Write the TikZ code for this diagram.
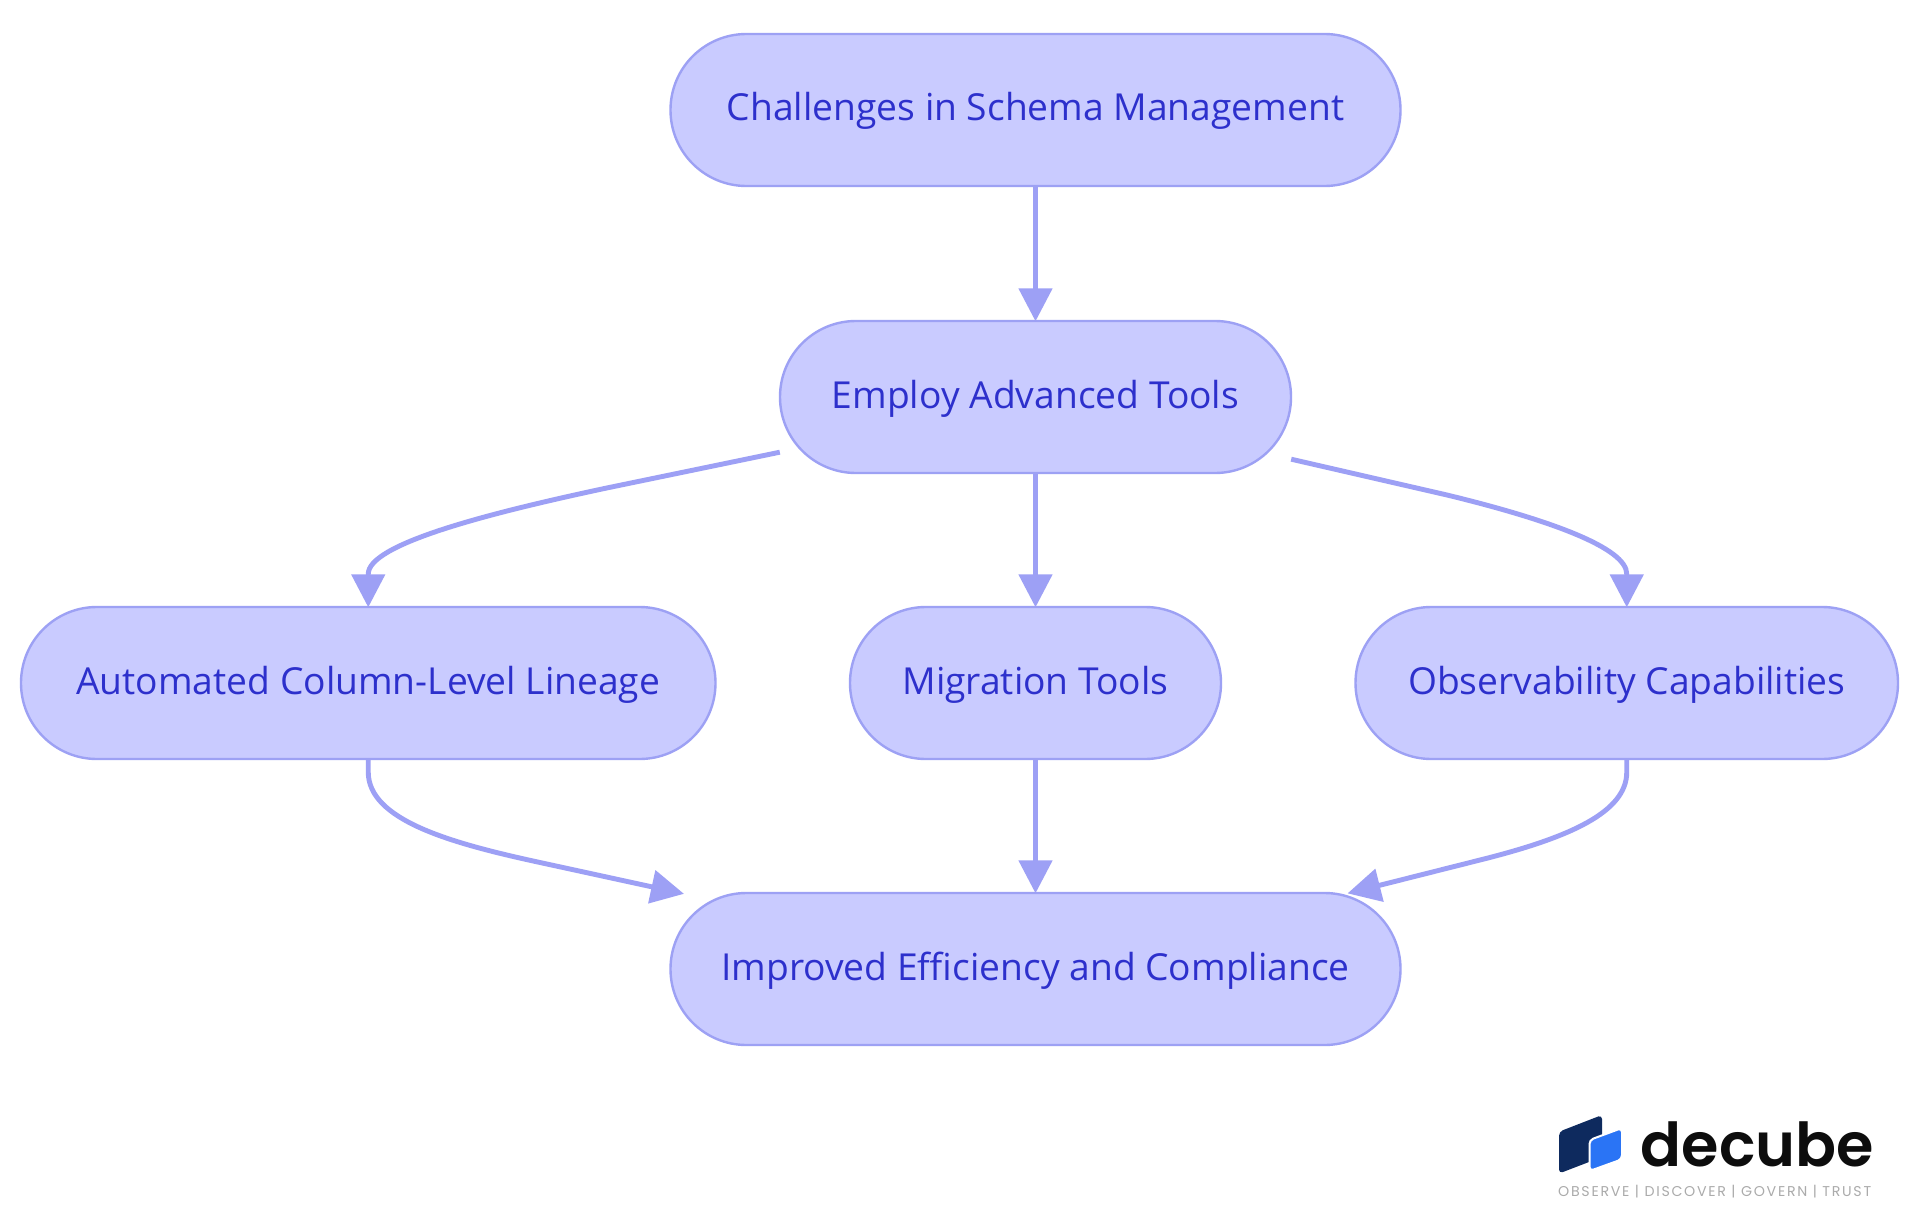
\documentclass[tikz,border=0pt]{standalone}
\usepackage{fontspec}
\usetikzlibrary{arrows.meta}
\setmainfont{Open Sans}
\newfontfamily\logofont[BoldFont={Poppins SemiBold}]{Poppins}
\newfontfamily\tagfont[LetterSpace=12]{Poppins}
\definecolor{nodefill}{HTML}{C9CBFF}
\definecolor{nodeline}{HTML}{9DA1F4}
\definecolor{nodetext}{HTML}{2D30CC}
\definecolor{edgecol}{HTML}{9DA0F5}
\tikzset{
  stadium/.style={draw=nodeline,fill=nodefill,line width=2.4pt,rounded corners=75.9pt,
    minimum height=152pt,inner sep=0pt,text=nodetext,
    font=\fontsize{37.2}{44}\selectfont,text height=28pt,text depth=6pt},
  flow/.style={draw=edgecol,line width=4.9pt,shorten >=-1.5pt,-{Triangle[length=33pt,width=33pt,fill=edgecol]}},
}
\begin{document}
\begin{tikzpicture}[x=1pt,y=-1pt]
\useasboundingbox (0,0) rectangle (1920,1215);
\fill[white] (0,0) rectangle (1920,1215);
% flow nodes
\node[stadium,minimum width=730pt] (chal) at (1035.5,110) {Challenges in Schema Management};
\node[stadium,minimum width=511pt] (emp) at (1035.5,397) {Employ Advanced Tools};
\node[stadium,minimum width=694.5pt] (auto) at (368.25,683) {Automated Column-Level Lineage};
\node[stadium,minimum width=371pt] (mig) at (1035.5,683) {Migration Tools};
\node[stadium,minimum width=542.5pt] (obs) at (1626.75,683) {Observability Capabilities};
\node[stadium,minimum width=730pt] (imp) at (1035.5,969) {Improved Efficiency and Compliance};
% anchors beside the nodes
\coordinate (empL) at ([xshift=1pt,yshift=22pt]emp.south west);
\coordinate (empR) at ([xshift=-1pt,yshift=15pt]emp.south east);
\coordinate (impL) at (682.5,893.5);
\coordinate (impR) at (1349,893);
% connectors
\draw[flow] (chal) -- (emp);
\draw[flow] (emp) -- (mig);
\draw[flow] (mig) -- (imp);
\draw[flow] (empL) -- (606.7,488) .. controls (480,515) and (368.25,545) .. (368.25,574) -- (auto.north);
\draw[flow] (empR) -- (1447,495) .. controls (1550,520) and (1626.75,548) .. (1626.75,574) -- (obs.north);
\draw[flow] (auto.south) -- (368.25,772) .. controls (368.25,820) and (450,843) .. (540,862.5) -- (impL);
\draw[flow] (obs.south) -- (1626.75,772) .. controls (1626.75,812) and (1570,837.5) .. (1480,860) -- (impR);
% logo
\fill[fill={rgb,255:red,14;green,42;blue,94},rounded corners=4pt]
  (1559,1131.7) -- (1602,1115) -- (1602,1157) -- (1559,1173.5) -- cycle;
\filldraw[draw=white,line width=2pt,fill={rgb,255:red,42;green,116;blue,245},rounded corners=4pt]
  (1589.5,1140) -- (1622,1128) -- (1622,1159.3) -- (1589.5,1171) -- cycle;
\node[anchor=base west,inner sep=0pt,text={rgb,255:red,13;green,13;blue,13},font=\logofont\fontsize{60.5}{66}\selectfont\bfseries] (brand) at (1640.5,1166.5) {decube};
\node[anchor=base west,inner sep=0pt,text={rgb,255:red,171;green,171;blue,171},font=\tagfont\fontsize{14.2}{17}\selectfont] (tag) at (1558,1196.7) {OBSERVE | DISCOVER | GOVERN | TRUST};
\end{tikzpicture}
\end{document}
